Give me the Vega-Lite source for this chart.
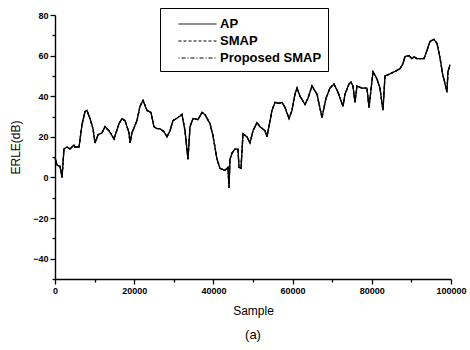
{
  "$schema": "https://vega.github.io/schema/vega-lite/v6.json",
  "width": 396,
  "height": 264,
  "autosize": {"type": "none"},
  "padding": {"left": 55, "top": 15, "right": 19, "bottom": 71},
  "background": "white",
  "config": {
    "view": {"stroke": null},
    "font": "Liberation Sans",
    "axis": {"grid": false, "domainColor": "black", "tickColor": "black", "labelColor": "black", "titleColor": "black", "domainWidth": 1.4, "tickWidth": 1.3, "labelFont": "Liberation Sans", "labelFontWeight": "bold", "labelFontSize": 9, "titleFont": "Liberation Sans", "titleFontWeight": "normal", "titleFontSize": 12}
  },
  "title": {"text": "(a)", "orient": "bottom", "fontSize": 13, "fontWeight": "normal", "color": "black", "offset": 13, "font": "Liberation Sans"},
  "data": {
    "values": [
      {"sample": 0, "AP": 10, "SMAP": 10, "PSMAP": 10},
      {"sample": 500, "AP": 6, "SMAP": 6, "PSMAP": 6},
      {"sample": 1260, "AP": 5.5, "SMAP": 5.5, "PSMAP": 5.5},
      {"sample": 1770, "AP": 0, "SMAP": 0, "PSMAP": 0},
      {"sample": 2270, "AP": 14, "SMAP": 14, "PSMAP": 14},
      {"sample": 3030, "AP": 15, "SMAP": 15, "PSMAP": 15},
      {"sample": 3790, "AP": 14, "SMAP": 14, "PSMAP": 14},
      {"sample": 4800, "AP": 16, "SMAP": 16, "PSMAP": 16},
      {"sample": 5050, "AP": 15, "SMAP": 15, "PSMAP": 15},
      {"sample": 6060, "AP": 15, "SMAP": 15, "PSMAP": 15},
      {"sample": 6820, "AP": 26, "SMAP": 26, "PSMAP": 26},
      {"sample": 7580, "AP": 32.5, "SMAP": 32.5, "PSMAP": 32.5},
      {"sample": 8080, "AP": 33, "SMAP": 33, "PSMAP": 33},
      {"sample": 8840, "AP": 29, "SMAP": 29, "PSMAP": 29},
      {"sample": 9600, "AP": 24, "SMAP": 24, "PSMAP": 24},
      {"sample": 10100, "AP": 17, "SMAP": 17, "PSMAP": 17},
      {"sample": 10860, "AP": 21, "SMAP": 21, "PSMAP": 21},
      {"sample": 11870, "AP": 22, "SMAP": 22, "PSMAP": 22},
      {"sample": 12630, "AP": 25, "SMAP": 25, "PSMAP": 25},
      {"sample": 13640, "AP": 23, "SMAP": 23, "PSMAP": 23},
      {"sample": 14900, "AP": 19, "SMAP": 19, "PSMAP": 19},
      {"sample": 16160, "AP": 26.5, "SMAP": 26.5, "PSMAP": 26.5},
      {"sample": 16920, "AP": 29, "SMAP": 29, "PSMAP": 29},
      {"sample": 17680, "AP": 28, "SMAP": 28, "PSMAP": 28},
      {"sample": 18690, "AP": 22, "SMAP": 22, "PSMAP": 22},
      {"sample": 18940, "AP": 17, "SMAP": 17, "PSMAP": 17},
      {"sample": 19440, "AP": 22, "SMAP": 22, "PSMAP": 22},
      {"sample": 20700, "AP": 28, "SMAP": 28, "PSMAP": 28},
      {"sample": 21460, "AP": 35, "SMAP": 35, "PSMAP": 35},
      {"sample": 22220, "AP": 38, "SMAP": 38, "PSMAP": 38},
      {"sample": 23230, "AP": 33, "SMAP": 33, "PSMAP": 33},
      {"sample": 24240, "AP": 32, "SMAP": 32, "PSMAP": 32},
      {"sample": 25000, "AP": 25, "SMAP": 25, "PSMAP": 25},
      {"sample": 25760, "AP": 24, "SMAP": 24, "PSMAP": 24},
      {"sample": 26510, "AP": 24, "SMAP": 24, "PSMAP": 24},
      {"sample": 27520, "AP": 22.5, "SMAP": 22.5, "PSMAP": 22.5},
      {"sample": 28280, "AP": 20, "SMAP": 20, "PSMAP": 20},
      {"sample": 29040, "AP": 23, "SMAP": 23, "PSMAP": 23},
      {"sample": 29800, "AP": 28, "SMAP": 28, "PSMAP": 28},
      {"sample": 31060, "AP": 29.5, "SMAP": 29.5, "PSMAP": 29.5},
      {"sample": 32070, "AP": 31, "SMAP": 31, "PSMAP": 31},
      {"sample": 32830, "AP": 23, "SMAP": 23, "PSMAP": 23},
      {"sample": 33580, "AP": 9, "SMAP": 9, "PSMAP": 9},
      {"sample": 34090, "AP": 25, "SMAP": 25, "PSMAP": 25},
      {"sample": 34850, "AP": 29, "SMAP": 29, "PSMAP": 29},
      {"sample": 36110, "AP": 28.5, "SMAP": 28.5, "PSMAP": 28.5},
      {"sample": 37120, "AP": 32, "SMAP": 32, "PSMAP": 32},
      {"sample": 37880, "AP": 31, "SMAP": 31, "PSMAP": 31},
      {"sample": 39140, "AP": 26.5, "SMAP": 26.5, "PSMAP": 26.5},
      {"sample": 39900, "AP": 20.5, "SMAP": 20.5, "PSMAP": 20.5},
      {"sample": 40910, "AP": 9, "SMAP": 9, "PSMAP": 9},
      {"sample": 41660, "AP": 4.5, "SMAP": 4.5, "PSMAP": 4.5},
      {"sample": 42930, "AP": 3.5, "SMAP": 3.5, "PSMAP": 3.5},
      {"sample": 43680, "AP": 5, "SMAP": 5, "PSMAP": 5},
      {"sample": 43940, "AP": -5, "SMAP": -5, "PSMAP": -5},
      {"sample": 44190, "AP": 9, "SMAP": 9, "PSMAP": 9},
      {"sample": 44690, "AP": 12, "SMAP": 12, "PSMAP": 12},
      {"sample": 45450, "AP": 14, "SMAP": 14, "PSMAP": 14},
      {"sample": 46210, "AP": 14, "SMAP": 14, "PSMAP": 14},
      {"sample": 46460, "AP": 5, "SMAP": 5, "PSMAP": 5},
      {"sample": 46970, "AP": 4.5, "SMAP": 4.5, "PSMAP": 4.5},
      {"sample": 47470, "AP": 21.5, "SMAP": 21.5, "PSMAP": 21.5},
      {"sample": 48480, "AP": 20, "SMAP": 20, "PSMAP": 20},
      {"sample": 49240, "AP": 17, "SMAP": 17, "PSMAP": 17},
      {"sample": 50000, "AP": 23, "SMAP": 23, "PSMAP": 23},
      {"sample": 51010, "AP": 27, "SMAP": 27, "PSMAP": 27},
      {"sample": 51760, "AP": 25, "SMAP": 25, "PSMAP": 25},
      {"sample": 53030, "AP": 23, "SMAP": 23, "PSMAP": 23},
      {"sample": 53530, "AP": 20, "SMAP": 20, "PSMAP": 20},
      {"sample": 54790, "AP": 33, "SMAP": 33, "PSMAP": 33},
      {"sample": 55550, "AP": 37, "SMAP": 37, "PSMAP": 37},
      {"sample": 56560, "AP": 36.5, "SMAP": 36.5, "PSMAP": 36.5},
      {"sample": 57320, "AP": 37, "SMAP": 37, "PSMAP": 37},
      {"sample": 58080, "AP": 34.5, "SMAP": 34.5, "PSMAP": 34.5},
      {"sample": 59090, "AP": 29, "SMAP": 29, "PSMAP": 29},
      {"sample": 59840, "AP": 33, "SMAP": 33, "PSMAP": 33},
      {"sample": 60600, "AP": 41, "SMAP": 41, "PSMAP": 41},
      {"sample": 61110, "AP": 44, "SMAP": 44, "PSMAP": 44},
      {"sample": 61860, "AP": 40, "SMAP": 40, "PSMAP": 40},
      {"sample": 63130, "AP": 36, "SMAP": 36, "PSMAP": 36},
      {"sample": 63880, "AP": 39, "SMAP": 39, "PSMAP": 39},
      {"sample": 64890, "AP": 45, "SMAP": 45, "PSMAP": 45},
      {"sample": 66160, "AP": 41, "SMAP": 41, "PSMAP": 41},
      {"sample": 67420, "AP": 29.5, "SMAP": 29.5, "PSMAP": 29.5},
      {"sample": 68430, "AP": 39, "SMAP": 39, "PSMAP": 39},
      {"sample": 69440, "AP": 44, "SMAP": 44, "PSMAP": 44},
      {"sample": 70450, "AP": 46, "SMAP": 46, "PSMAP": 46},
      {"sample": 71460, "AP": 42, "SMAP": 42, "PSMAP": 42},
      {"sample": 72720, "AP": 35, "SMAP": 35, "PSMAP": 35},
      {"sample": 73230, "AP": 41, "SMAP": 41, "PSMAP": 41},
      {"sample": 74240, "AP": 46, "SMAP": 46, "PSMAP": 46},
      {"sample": 74740, "AP": 47, "SMAP": 47, "PSMAP": 47},
      {"sample": 75250, "AP": 45, "SMAP": 45, "PSMAP": 45},
      {"sample": 75750, "AP": 37, "SMAP": 37, "PSMAP": 37},
      {"sample": 76260, "AP": 45, "SMAP": 45, "PSMAP": 45},
      {"sample": 77520, "AP": 44, "SMAP": 44, "PSMAP": 44},
      {"sample": 78780, "AP": 44, "SMAP": 44, "PSMAP": 44},
      {"sample": 79290, "AP": 34.5, "SMAP": 34.5, "PSMAP": 34.5},
      {"sample": 80300, "AP": 52, "SMAP": 52, "PSMAP": 52},
      {"sample": 81310, "AP": 48.5, "SMAP": 48.5, "PSMAP": 48.5},
      {"sample": 82060, "AP": 44, "SMAP": 44, "PSMAP": 44},
      {"sample": 82820, "AP": 33, "SMAP": 33, "PSMAP": 33},
      {"sample": 83330, "AP": 50, "SMAP": 50, "PSMAP": 50},
      {"sample": 84590, "AP": 51, "SMAP": 51, "PSMAP": 51},
      {"sample": 87110, "AP": 53.5, "SMAP": 53.5, "PSMAP": 53.5},
      {"sample": 87870, "AP": 56, "SMAP": 56, "PSMAP": 56},
      {"sample": 88380, "AP": 59.5, "SMAP": 59.5, "PSMAP": 59.5},
      {"sample": 89390, "AP": 60, "SMAP": 60, "PSMAP": 60},
      {"sample": 90140, "AP": 58.5, "SMAP": 58.5, "PSMAP": 58.5},
      {"sample": 90650, "AP": 59.5, "SMAP": 59.5, "PSMAP": 59.5},
      {"sample": 91410, "AP": 58.5, "SMAP": 58.5, "PSMAP": 58.5},
      {"sample": 93170, "AP": 58.5, "SMAP": 58.5, "PSMAP": 58.5},
      {"sample": 93930, "AP": 62.5, "SMAP": 62.5, "PSMAP": 62.5},
      {"sample": 94690, "AP": 67, "SMAP": 67, "PSMAP": 67},
      {"sample": 95700, "AP": 68, "SMAP": 68, "PSMAP": 68},
      {"sample": 96460, "AP": 66, "SMAP": 66, "PSMAP": 66},
      {"sample": 97210, "AP": 59, "SMAP": 59, "PSMAP": 59},
      {"sample": 97970, "AP": 50, "SMAP": 50, "PSMAP": 50},
      {"sample": 98220, "AP": 48.5, "SMAP": 48.5, "PSMAP": 48.5},
      {"sample": 98980, "AP": 42, "SMAP": 42, "PSMAP": 42},
      {"sample": 99230, "AP": 52, "SMAP": 52, "PSMAP": 52},
      {"sample": 99740, "AP": 55.5, "SMAP": 55.5, "PSMAP": 55.5}
    ]
  },
  "transform": [
    {"fold": ["AP", "SMAP", "PSMAP"], "as": ["key", "val"]}
  ],
  "mark": {"type": "line", "color": "black", "strokeWidth": 1.3, "clip": false},
  "encoding": {
    "x": {
      "field": "sample", "type": "quantitative",
      "scale": {"domain": [0, 100000], "nice": false, "zero": false},
      "axis": {
        "values": [0, 10000, 20000, 30000, 40000, 50000, 60000, 70000, 80000, 90000, 100000],
        "labelExpr": "datum.value % 20000 === 0 ? format(datum.value, 'd') : ''",
        "title": "Sample",
        "tickSize": {"condition": {"test": "datum.value % 20000 !== 0", "value": 3}, "value": 5},
        "labelPadding": 2, "titlePadding": 10, "labelFlush": false
      }
    },
    "y": {
      "field": "val", "type": "quantitative",
      "scale": {"domain": [-50, 80], "nice": false, "zero": false},
      "axis": {
        "values": [-50, -40, -30, -20, -10, 0, 10, 20, 30, 40, 50, 60, 70, 80],
        "labelExpr": "datum.value % 20 === 0 ? datum.label : ''",
        "title": "ERLE(dB)",
        "tickSize": {"condition": {"test": "datum.value % 20 !== 0", "value": 3}, "value": 5},
        "labelPadding": 2, "titlePadding": 10
      }
    },
    "strokeDash": {
      "field": "key", "type": "nominal",
      "scale": {"domain": ["AP", "SMAP", "PSMAP"], "range": [[1, 0], [3, 2], [1, 2, 4, 2]]},
      "legend": {
        "title": null,
        "orient": "none",
        "legendX": 105,
        "legendY": -7,
        "strokeColor": "black",
        "fillColor": "white",
        "padding": 6,
        "symbolType": "M-2,0H2",
        "symbolSize": 361,
        "symbolStrokeWidth": 1,
        "symbolStrokeColor": "black",
        "symbolFillColor": "transparent",
        "symbolOffset": 21.5,
        "labelFont": "Liberation Sans",
        "labelFontSize": 13,
        "labelFontWeight": "bold",
        "labelColor": "black",
        "labelOffset": 12.5,
        "rowPadding": -3,
        "labelExpr": "datum.label === 'PSMAP' ? 'Proposed SMAP\u00a0\u00a0\u00a0\u00a0' : datum.label"
      }
    }
  }
}
